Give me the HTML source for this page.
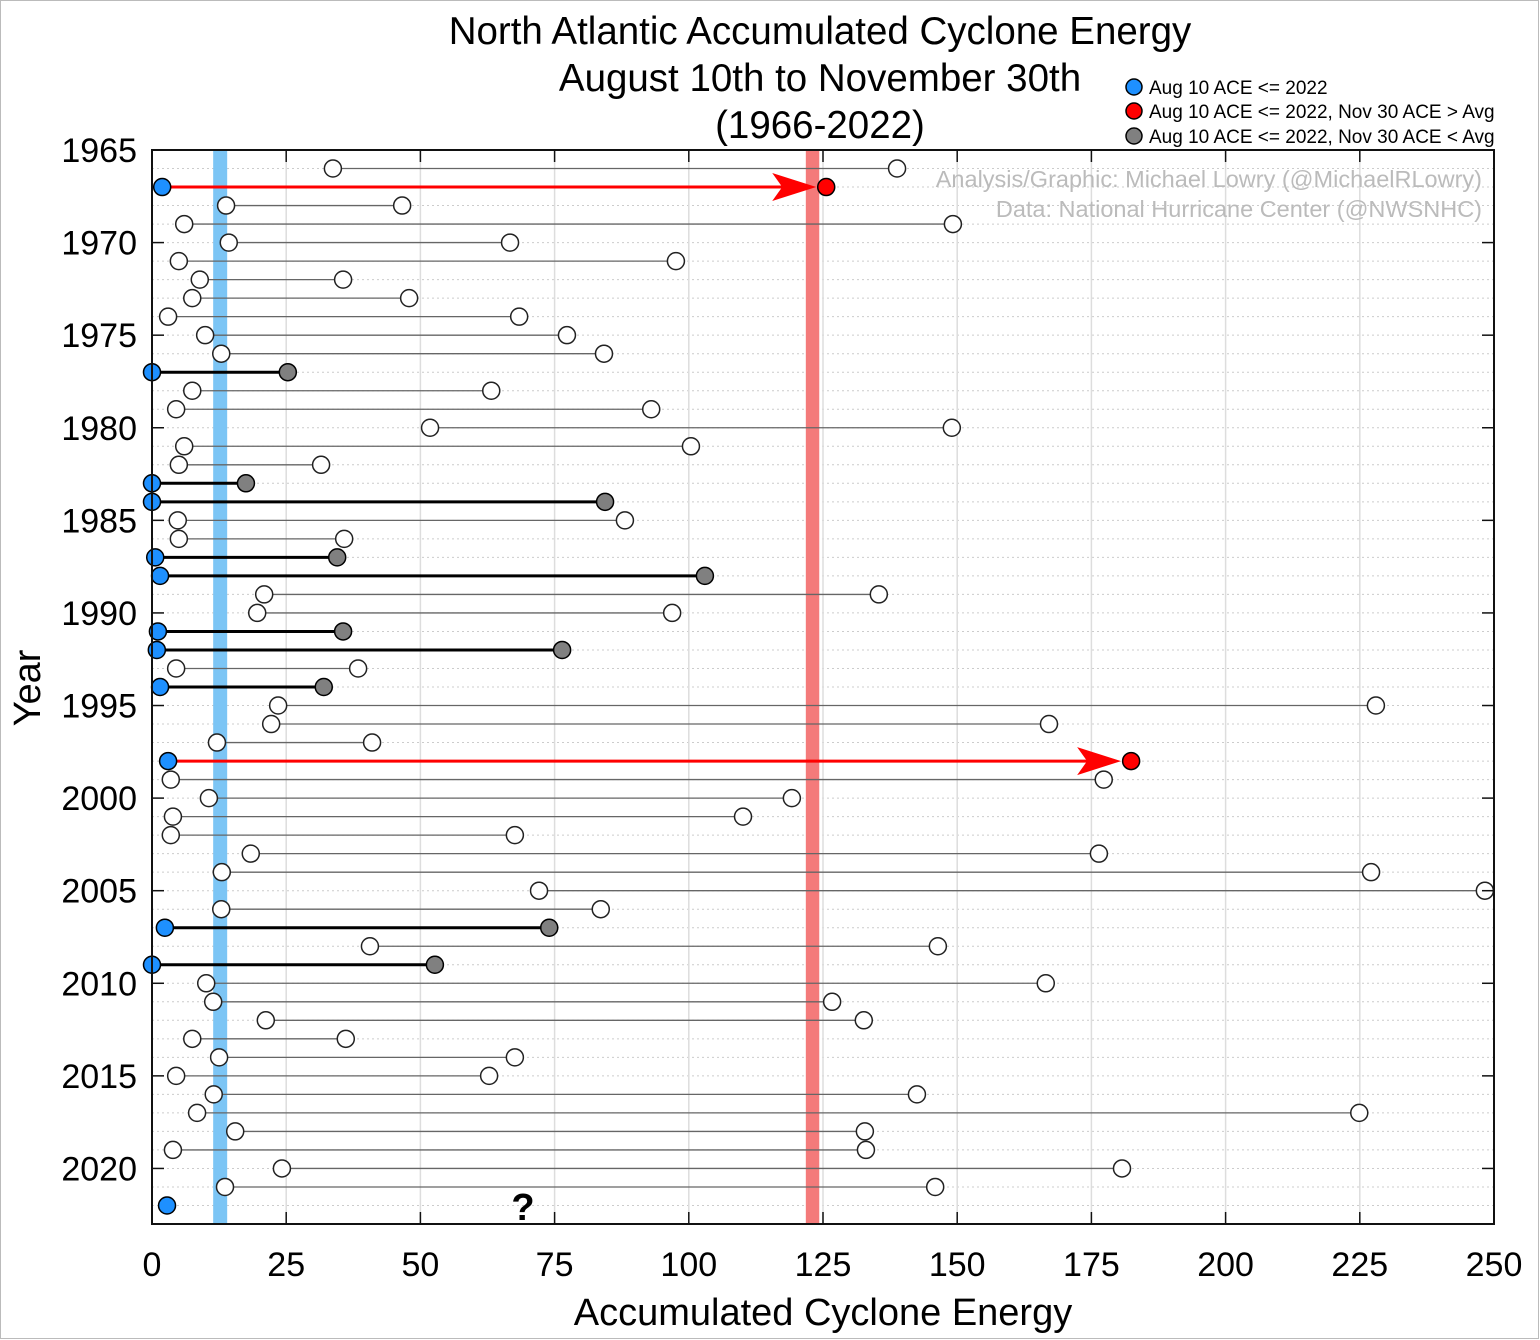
<!DOCTYPE html>
<html><head><meta charset="utf-8"><style>
html,body{margin:0;padding:0;background:#fff;}
svg{display:block;font-family:"Liberation Sans",sans-serif;}
</style></head><body>
<svg id="chart" width="1540" height="1340" viewBox="0 0 1540 1340">
<rect x="0" y="0" width="1540" height="1340" fill="#fff"/>
<rect x="0.5" y="0.5" width="1538" height="1338" fill="none" stroke="#bbb"/>
<g id="grid"></g>
<g id="bands"></g>
<g id="marks"></g>
<g id="axes"></g>
<text x="820" y="44" font-size="38.5" text-anchor="middle">North Atlantic Accumulated Cyclone Energy</text>
<text x="820" y="91" font-size="38.5" text-anchor="middle">August 10th to November 30th</text>
<text x="820" y="138" font-size="38.5" text-anchor="middle">(1966-2022)</text>
<text x="823" y="1325" font-size="38" text-anchor="middle">Accumulated Cyclone Energy</text>
<text transform="translate(40,688) rotate(-90)" font-size="38" text-anchor="middle">Year</text>
<text x="1482" y="187" font-size="23.5" fill="#bbb" text-anchor="end">Analysis/Graphic: Michael Lowry (@MichaelRLowry)</text>
<text x="1482" y="217" font-size="23.5" fill="#bbb" text-anchor="end">Data: National Hurricane Center (@NWSNHC)</text>
<text x="523" y="1220" font-size="38" font-weight="bold" text-anchor="middle">?</text>
<g>
<circle cx="1134" cy="87" r="8" fill="#1e90ff" stroke="#000" stroke-width="1.5"/>
<text x="1149" y="94" font-size="19">Aug 10 ACE &lt;= 2022</text>
<circle cx="1134" cy="111" r="8" fill="#f00" stroke="#000" stroke-width="1.5"/>
<text x="1149" y="118" font-size="19">Aug 10 ACE &lt;= 2022, Nov 30 ACE &gt; Avg</text>
<circle cx="1134" cy="136" r="8" fill="#808080" stroke="#000" stroke-width="1.5"/>
<text x="1149" y="143" font-size="19">Aug 10 ACE &lt;= 2022, Nov 30 ACE &lt; Avg</text>
</g>
</svg>
<script>
const years = [1966,1967,1968,1969,1970,1971,1972,1973,1974,1975,1976,1977,1978,1979,1980,1981,1982,1983,1984,1985,1986,1987,1988,1989,1990,1991,1992,1993,1994,1995,1996,1997,1998,1999,2000,2001,2002,2003,2004,2005,2006,2007,2008,2009,2010,2011,2012,2013,2014,2015,2016,2017,2018,2019,2020,2021,2022];
const aug10 = [33.7,1.9,13.8,6.0,14.3,5.0,8.9,7.5,3.0,9.9,12.9,0,7.5,4.5,51.8,6.0,5.0,0,0,4.8,5.0,0.6,1.5,20.9,19.6,1.1,0.9,4.5,1.5,23.5,22.2,12.1,3.0,3.5,10.6,3.9,3.5,18.4,13.0,72.1,12.9,2.4,40.6,0,10.1,11.4,21.2,7.5,12.5,4.5,11.5,8.4,15.5,3.9,24.2,13.6,2.8];
const nov30 = [138.8,125.6,46.6,149.2,66.7,97.6,35.6,47.9,68.4,77.3,84.2,25.3,63.2,93.0,149.0,100.4,31.5,17.5,84.4,88.1,35.8,34.5,103.0,135.4,96.9,35.6,76.4,38.4,32.0,228.0,167.1,41.0,182.4,177.3,119.2,110.1,67.6,176.4,227.1,248.3,83.6,74.0,146.4,52.7,166.5,126.7,132.6,36.1,67.6,62.8,142.5,224.9,132.8,133.0,180.7,145.9,null];
const kind = ["n","r","n","n","n","n","n","n","n","n","n","g","n","n","n","n","n","g","g","n","n","g","g","n","n","g","g","n","g","n","n","n","r","n","n","n","n","n","n","n","n","g","n","g","n","n","n","n","n","n","n","n","n","n","n","n","b"];
const xTicks = [0,25,50,75,100,125,150,175,200,225,250];
const yTicks = [1965,1970,1975,1980,1985,1990,1995,2000,2005,2010,2015,2020];
const currentAug10 = 12.7;
const avgBand = [121.8,124.3];

const X0=152,X1=1494,Y0=150,Y1=1224;
const xs=v=>X0+(v-0)*(X1-X0)/250;
const ys=y=>Y0+(y-1965)*(Y1-Y0)/58;
const NS="http://www.w3.org/2000/svg";
function mk(tag,attrs,parent){const e=document.createElementNS(NS,tag);for(const k in attrs)e.setAttribute(k,attrs[k]);parent.appendChild(e);return e;}
const grid=document.getElementById('grid'),bands=document.getElementById('bands'),marks=document.getElementById('marks'),axes=document.getElementById('axes');

for(let y=1966;y<=2022;y++){
  const l=mk('line',{x1:X0,x2:X1,y1:ys(y),y2:ys(y),stroke:'#ccc','stroke-width':1,'stroke-dasharray':'2,3'},grid);
  
  
}
xTicks.forEach(t=>{
  const l=mk('line',{x1:xs(t),x2:xs(t),y1:Y0,y2:Y1,stroke:'#ddd','stroke-width':1.5},grid);
  
  
});
const b1=mk('rect',{x:xs(currentAug10)-7,y:Y0,width:14,height:Y1-Y0,fill:'#7cc5f5'},bands);


const b2=mk('rect',{x:xs(avgBand[0]),y:Y0,width:xs(avgBand[1])-xs(avgBand[0]),height:Y1-Y0,fill:'#f47a7a'},bands);



years.forEach((yr,i)=>{
  const y=ys(yr),k=kind[i],a=aug10[i],n=nov30[i];
  if(k==='b'){
    const c=mk('circle',{cx:xs(a),cy:y,r:8.5,fill:'#1e90ff',stroke:'#000','stroke-width':1.5},marks);
    
    
    return;
  }
  if(k==='n'){
    const l=mk('line',{x1:xs(a),x2:xs(n),y1:y,y2:y,stroke:'#666','stroke-width':1.3},marks);
    
    
    [a,n].forEach((v,j)=>{
      const c=mk('circle',{cx:xs(v),cy:y,r:8.5,fill:'#fff',stroke:'#222','stroke-width':1.5},marks);
      
      
    });
  } else if(k==='g'){
    const l=mk('line',{x1:xs(a),x2:xs(n),y1:y,y2:y,stroke:'#000','stroke-width':3},marks);
    
    
    const c1=mk('circle',{cx:xs(a),cy:y,r:8.5,fill:'#1e90ff',stroke:'#000','stroke-width':1.5},marks);
    
    
    const c2=mk('circle',{cx:xs(n),cy:y,r:8.5,fill:'#808080',stroke:'#000','stroke-width':1.5},marks);
    
    
  } else {
    const xe=xs(n)-10;
    const l=mk('line',{x1:xs(a),x2:xe-30,y1:y,y2:y,stroke:'#f00','stroke-width':3},marks);
    
    
    const p=mk('polygon',{points:`${xe},${y} ${xe-44},${y-14} ${xe-34},${y} ${xe-44},${y+14}`,fill:'#f00'},marks);
    
    
    const c1=mk('circle',{cx:xs(a),cy:y,r:8.5,fill:'#1e90ff',stroke:'#000','stroke-width':1.5},marks);
    
    
    const c2=mk('circle',{cx:xs(n),cy:y,r:8.5,fill:'#f00',stroke:'#000','stroke-width':1.5},marks);
    
    
  }
});

const fr=mk('rect',{x:X0,y:Y0,width:X1-X0,height:Y1-Y0,fill:'none',stroke:'#111','stroke-width':2},axes);


xTicks.forEach(t=>{
  const x=xs(t);
  mk('line',{x1:x,x2:x,y1:Y1,y2:Y1-12,stroke:'#111','stroke-width':1.5},axes);
  mk('line',{x1:x,x2:x,y1:Y0,y2:Y0+12,stroke:'#111','stroke-width':1.5},axes);
  const tx=mk('text',{x:x,y:1276,'font-size':34,'text-anchor':'middle'},axes);
  tx.textContent=t;
  
  
});
yTicks.forEach(t=>{
  const y=ys(t);
  mk('line',{x1:X0,x2:X0+12,y1:y,y2:y,stroke:'#111','stroke-width':1.5},axes);
  mk('line',{x1:X1,x2:X1-12,y1:y,y2:y,stroke:'#111','stroke-width':1.5},axes);
  const tx=mk('text',{x:137,y:y+12,'font-size':34,'text-anchor':'end'},axes);
  tx.textContent=t;
  
  
});
</script>
</body></html>
